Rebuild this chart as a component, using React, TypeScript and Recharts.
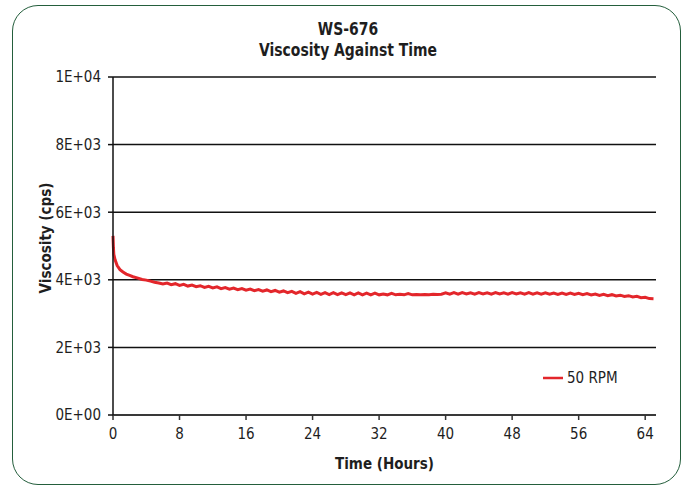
import React from 'react';
import {
  LineChart,
  Line,
  XAxis,
  YAxis,
  CartesianGrid,
  Label
} from 'recharts';

// readings taken off the reference plot (hours, cps)
const hours = [
  0, 0.05, 0.1, 0.25, 0.5, 0.84, 1.2, 1.6, 2, 2.4, 3, 3.5, 4, 4.5, 5, 5.5,
  6, 6.5, 7, 7.5, 8, 8.5, 9, 9.5, 10, 10.5,
  11, 11.5, 12, 12.5, 13, 13.5, 14, 14.5, 15, 15.5,
  16, 16.5, 17, 17.5, 18, 18.5, 19, 19.5, 20, 20.5,
  21, 21.5, 22, 22.5, 23, 23.5, 24, 24.5, 25, 25.5,
  26, 26.5, 27, 27.5, 28, 28.5, 29, 29.5, 30, 30.5,
  31, 31.5, 32, 32.5, 33, 33.5, 34, 34.5, 35, 35.5,
  36, 36.5, 37, 37.5, 38, 38.5, 39, 39.5, 40, 40.5,
  41, 41.5, 42, 42.5, 43, 43.5, 44, 44.5, 45, 45.5,
  46, 46.5, 47, 47.5, 48, 48.5, 49, 49.5, 50, 50.5,
  51, 51.5, 52, 52.5, 53, 53.5, 54, 54.5, 55, 55.5,
  56, 56.5, 57, 57.5, 58, 58.5, 59, 59.5, 60, 60.5,
  61, 61.5, 62, 62.5, 63, 63.5, 64, 64.5, 65
];

const viscosity50 = [
  5300, 4950, 4750, 4590, 4420, 4300, 4230, 4170, 4130, 4090, 4050, 4010, 3990, 3960, 3930, 3905,
  3875, 3905, 3855, 3885, 3835, 3865, 3815, 3845, 3795, 3825,
  3775, 3805, 3760, 3790, 3740, 3770, 3725, 3755, 3710, 3740,
  3695, 3725, 3680, 3710, 3665, 3700, 3650, 3685, 3635, 3670,
  3620, 3660, 3600, 3650, 3585, 3635, 3575, 3625, 3570, 3620,
  3565, 3620, 3560, 3615, 3560, 3610, 3555, 3610, 3555, 3605,
  3555, 3605, 3555, 3580, 3555, 3600, 3555, 3570, 3555, 3595,
  3555, 3565, 3560, 3565, 3560, 3570, 3565, 3575, 3615, 3575,
  3620, 3575, 3620, 3580, 3615, 3575, 3620, 3580, 3615, 3575,
  3620, 3580, 3615, 3575, 3620, 3580, 3615, 3575, 3620, 3575,
  3615, 3575, 3615, 3575, 3610, 3570, 3610, 3570, 3605, 3565,
  3600, 3560, 3590, 3550, 3580, 3540, 3570, 3530, 3560, 3520,
  3545, 3505, 3530, 3490, 3510, 3470, 3485, 3445, 3440
];

const xTicks = [0, 8, 16, 24, 32, 40, 48, 56, 64];
const yTicks = [0, 2000, 4000, 6000, 8000, 10000];

const data = hours.map((h, i) => ({ hours: h, rpm50: viscosity50[i] }));

const FONT = "'Liberation Sans Narrow', 'DejaVu Sans Condensed', 'Liberation Sans', Arial, sans-serif";
const RED = '#e3262b';
const INK = '#1e1e1e';

const sci = (v: number) => {
  const [m, e] = v.toExponential(0).split('e');
  return `${m}E${e[0]}${e.slice(1).padStart(2, '0')}`;
};

export default function App() {
  return (
    <div style={{ position: 'absolute', left: 0, top: 0, width: 688, height: 485, background: '#fff', overflow: 'hidden' }}>
      <div
        style={{
          position: 'absolute',
          left: 12,
          top: 5,
          width: 667,
          height: 478,
          border: '1.5px solid #245e3c',
          borderRadius: 26
        }}
      />
      <div
        style={{
          position: 'absolute',
          left: 0,
          width: 696,
          top: 18,
          textAlign: 'center',
          fontFamily: FONT,
          fontWeight: 'bold',
          fontSize: 18,
          lineHeight: '21px',
          color: INK,
          transform: 'scaleX(0.86)'
        }}
      >
        <div>WS-676</div>
        <div>Viscosity Against Time</div>
      </div>
      <LineChart
        width={688}
        height={485}
        data={data}
        margin={{ top: 77, right: 32, bottom: 0, left: 0 }}
        style={{ position: 'absolute', left: 0, top: 0, fontFamily: FONT }}
      >
        <CartesianGrid vertical={false} stroke="#111" strokeWidth={1.5} />
        <XAxis
          dataKey="hours"
          type="number"
          domain={[0, 65.3]}
          ticks={xTicks}
          interval={0}
          height={70}
          tickSize={5}
          tickMargin={8}
          stroke="#333"
          strokeWidth={1.5}
          tick={{ fill: INK, fontSize: 15 }}
        >
          <Label
            value="Time (Hours)"
            position="insideBottom"
            offset={16}
            style={{ fontWeight: 'bold', fontSize: 15, fill: INK }}
          />
        </XAxis>
        <YAxis
          type="number"
          domain={[0, 10000]}
          ticks={yTicks}
          interval={0}
          width={113}
          tickSize={5}
          tickMargin={7}
          tickFormatter={sci}
          stroke="#111"
          strokeWidth={1.5}
          tick={{ fill: INK, fontSize: 15 }}
        >
          <Label
            value="Viscosity (cps)"
            angle={-90}
            position="center"
            dx={-11}
            dy={-8}
            style={{ fontWeight: 'bold', fontSize: 15, fill: INK, textAnchor: 'middle' }}
          />
        </YAxis>
        <Line
          type="linear"
          dataKey="rpm50"
          stroke={RED}
          strokeWidth={3}
          dot={false}
          isAnimationActive={false}
        />
      </LineChart>
      <div
        style={{
          position: 'absolute',
          left: 543,
          top: 369,
          display: 'flex',
          alignItems: 'center',
          fontFamily: FONT,
          fontSize: 15,
          color: INK
        }}
      >
        <svg width={21} height={10}>
          <line x1={0} y1={5} x2={20} y2={5} stroke={RED} strokeWidth={2.5} />
        </svg>
        <span style={{ marginLeft: 3 }}>50 RPM</span>
      </div>
    </div>
  );
}
